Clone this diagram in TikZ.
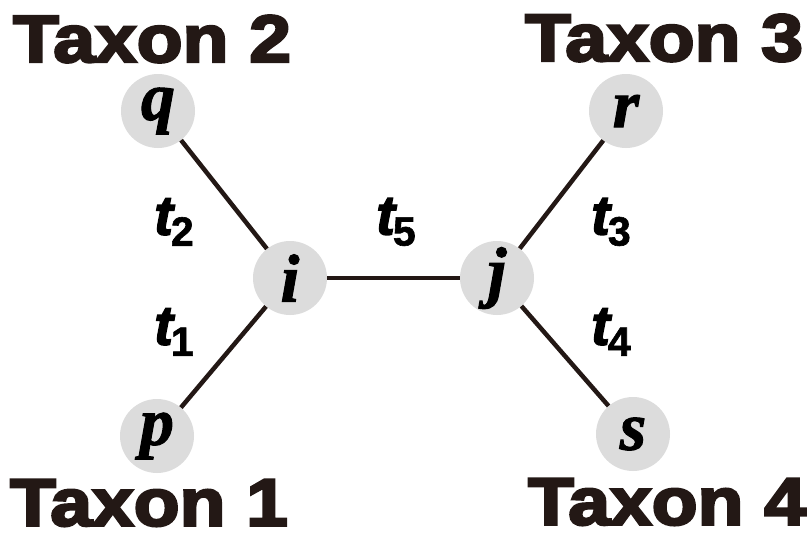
\documentclass[tikz,border=0pt]{standalone}
\usepackage{fontspec}
\setmainfont{Liberation Serif}
\newfontfamily\taxfont[FakeBold=3.5]{Liberation Sans Bold}
\newfontfamily\tfont[FakeBold=2.5]{Liberation Sans Bold Italic}
\newfontfamily\subfont[FakeBold=1.5]{Liberation Sans Bold}
\newfontfamily\vfont[FakeBold=1.5]{Liberation Serif Bold Italic}
\definecolor{edge}{HTML}{231815}
\definecolor{nodefill}{HTML}{DCDCDC}
\tikzset{
  vert/.style={circle, fill=nodefill, minimum size=74pt, inner sep=0pt, font=\fontsize{68}{68}\vfont, text=black},
  branch/.style={line width=4.5pt, draw=edge},
  taxon/.style={font=\fontsize{67}{67}\taxfont, text=edge, inner sep=0pt},
  blab/.style={inner sep=0pt, text=black}
}
\newcommand{\tl}[1]{{\fontsize{56}{56}\tfont t}\kern-2pt{\fontsize{41}{41}\subfont\raisebox{-11pt}{#1}}}
\begin{document}
\begin{tikzpicture}[x=1pt,y=-1pt]
\useasboundingbox (0,0) rectangle (811,539);
\node[vert] (q) at (158,111) {\raisebox{-6pt}{q}};
\node[vert] (p) at (157,436) {\raisebox{-6pt}{p}};
\node[vert] (i) at (290,278) {i};
\node[vert] (j) at (497,278) {\raisebox{-6pt}{j}};
\node[vert] (r) at (626,111) {r};
\node[vert] (s) at (633,434) {s};
\draw[branch] (q) -- (i);
\draw[branch] (p) -- (i);
\draw[branch] (i) -- (j);
\draw[branch] (j) -- (r);
\draw[branch] (j) -- (s);
\node[taxon] (tx2) at (152,39) {\scalebox{1.12}[1]{Taxon 2}};
\node[taxon] (tx1) at (149,503) {\scalebox{1.12}[1]{Taxon 1}};
\node[taxon] (tx3) at (664,38) {\scalebox{1.12}[1]{Taxon 3}};
\node[taxon] (tx4) at (667,502) {\scalebox{1.12}[1]{Taxon 4}};
\node[blab] (l2) at (174,222) {\tl{2}};
\node[blab] (l1) at (174,332) {\tl{1}};
\node[blab] (l5) at (396,222) {\tl{5}};
\node[blab] (l3) at (611,222) {\tl{3}};
\node[blab] (l4) at (611,332) {\tl{4}};
\end{tikzpicture}
\end{document}
